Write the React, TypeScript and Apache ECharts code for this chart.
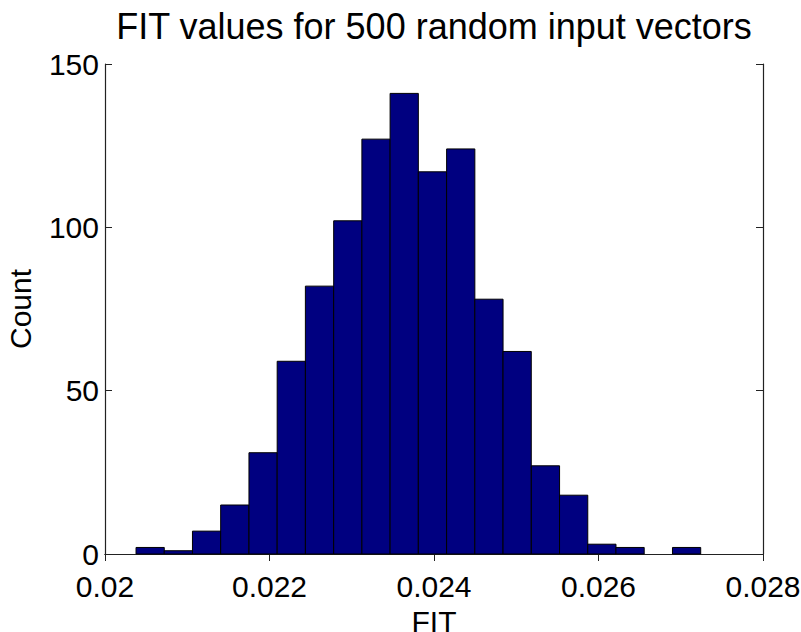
import React, { useEffect, useRef } from "react";
import * as echarts from "echarts";

// Histogram bin centres (FIT values) and counts per bin
const binCenters = [
  0.020549, 0.020892, 0.021235, 0.021578, 0.021922, 0.022265, 0.022608,
  0.022952, 0.023295, 0.023638, 0.023981, 0.024325, 0.024668, 0.025011,
  0.025355, 0.025698, 0.026041, 0.026384, 0.026728, 0.027071,
];
const counts = [
  2, 1, 7, 15, 31, 59, 82, 102, 127, 141, 117, 124, 78, 62, 27, 18, 3, 2, 0, 2,
];
const binWidth = 0.0003433;

const xTicks = ["0.02", "0.022", "0.024", "0.026", "0.028"];
const yTicks = ["0", "50", "100", "150"];

const titleText = "FIT values for 500 random input vectors";
const xName = "FIT";
const yName = "Count";

const FONT = "'Liberation Sans', Arial, Helvetica, sans-serif";

export default function App() {
  const ref = useRef<HTMLDivElement>(null);
  useEffect(() => {
    if (!ref.current) return;
    const chart = echarts.init(ref.current, undefined, { renderer: "svg" });
    const data = binCenters.map((c, i) => [c, counts[i]]);
    const axisCommon = {
      axisLine: { show: true, lineStyle: { color: "#222", width: 1.2 } },
      axisTick: { show: true, inside: true, length: 7, lineStyle: { color: "#222" } },
      splitLine: { show: false },
    };
    chart.setOption({
      animation: false,
      backgroundColor: "#ffffff",
      grid: {
        left: 105,
        right: 38,
        top: 64,
        bottom: 78,
        containLabel: false,
        outerBoundsMode: "none",
      },
      graphic: [
        {
          type: "text",
          x: 434,
          y: 26,
          style: {
            text: titleText,
            fontFamily: FONT,
            fontSize: 36,
            fill: "#000",
            textAlign: "center",
            textVerticalAlign: "middle",
          },
        },
      ],
      xAxis: [
        {
          type: "value",
          min: 0.02,
          max: 0.028,
          interval: 0.002,
          position: "bottom",
          ...axisCommon,
          axisLabel: {
            show: true,
            margin: 17,
            fontSize: 30,
            fontFamily: FONT,
            color: "#000",
            formatter: (v: number) => {
              const idx = Math.round((v - 0.02) / 0.002);
              return xTicks[idx] ?? "";
            },
          },
          name: xName,
          nameLocation: "middle",
          nameGap: 52,
          nameTextStyle: { fontSize: 30, fontFamily: FONT, color: "#000" },
        },
        {
          type: "value",
          min: 0.02,
          max: 0.028,
          interval: 0.002,
          position: "top",
          ...axisCommon,
          axisLabel: { show: false },
        },
      ],
      yAxis: [
        {
          type: "value",
          min: 0,
          max: 150,
          interval: 50,
          position: "left",
          ...axisCommon,
          axisLabel: {
            show: true,
            margin: 6,
            fontSize: 30,
            fontFamily: FONT,
            color: "#000",
            padding: [10, 0, 0, 0],
            formatter: (v: number) => {
              const idx = Math.round(v / 50);
              return yTicks[idx] ?? "";
            },
          },
          name: yName,
          nameLocation: "middle",
          nameGap: 70,
          nameTextStyle: { fontSize: 30, fontFamily: FONT, color: "#000" },
        },
        {
          type: "value",
          min: 0,
          max: 150,
          interval: 50,
          position: "right",
          ...axisCommon,
          axisLabel: { show: false },
        },
      ],
      series: [
        {
          type: "custom",
          xAxisIndex: 0,
          yAxisIndex: 0,
          data,
          encode: { x: 0, y: 1 },
          renderItem: (params: any, api: any) => {
            const c = api.value(0);
            const v = api.value(1);
            if (!v) return null;
            const p0 = api.coord([c - binWidth / 2, v]);
            const p1 = api.coord([c + binWidth / 2, 0]);
            return {
              type: "rect",
              shape: { x: p0[0], y: p0[1], width: p1[0] - p0[0], height: p1[1] - p0[1] },
              style: { fill: "#000080", stroke: "#000", lineWidth: 1 },
            };
          },
        },
      ],
    });
    return () => chart.dispose();
  }, []);
  return (
    <div
      ref={ref}
      style={{ position: "absolute", left: 0, top: 0, width: 801, height: 632 }}
    />
  );
}
